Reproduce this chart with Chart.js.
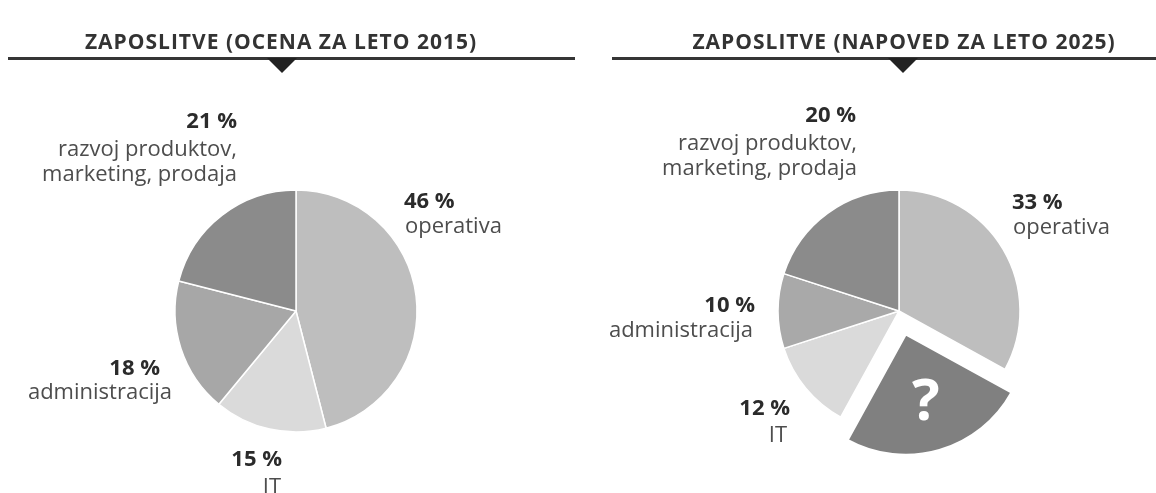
<!DOCTYPE html>
<html>
<head>
<meta charset="utf-8">
<script src="https://cdn.jsdelivr.net/npm/chart.js@4.4.0/dist/chart.umd.min.js"></script>
<style>
  html, body { margin: 0; padding: 0; background: #fff; }
  #wrap { position: relative; width: 1156px; height: 493px; overflow: hidden; }
  canvas { position: absolute; top: 0; }
  #left { left: 0; }
  #right { left: 590px; }
</style>
</head>
<body>
<div id="wrap">
  <canvas id="left" width="590" height="493"></canvas>
  <canvas id="right" width="566" height="493"></canvas>
</div>
<script>
// shares in percent, clockwise from 12 o'clock
var categories2015 = ['operativa', 'IT', 'administracija', 'razvoj produktov,\nmarketing, prodaja'];
var shares2015 = [46, 15, 18, 21];

var categories2025 = ['operativa', '?', 'IT', 'administracija', 'razvoj produktov,\nmarketing, prodaja'];
var shares2025 = [33, 25, 12, 10, 20];

var grays2015 = ['#bebebe', '#dadada', '#a7a7a7', '#8b8b8b'];
var grays2025 = ['#bebebe', '#808080', '#dadada', '#a9a9a9', '#8b8b8b'];

//+++++++++++++++ heading: title, rule and little arrow +++++++++++++++
var heading = {
	id: 'heading',
	beforeDraw: function (chart, args, o) {
		var ctx = chart.ctx;
		ctx.save();
		ctx.fillStyle = '#333';
		ctx.font = 'bold 21px "Open Sans"';
		if ('letterSpacing' in ctx) ctx.letterSpacing = '1px';
		ctx.textAlign = 'center';
		ctx.textBaseline = 'alphabetic';
		ctx.fillText(o.text, o.textX, 49);

		ctx.strokeStyle = '#353535';
		ctx.lineWidth = 3;
		ctx.beginPath();
		ctx.moveTo(o.from, 58.5);
		ctx.lineTo(o.to, 58.5);
		ctx.stroke();

		ctx.fillStyle = '#222';
		ctx.beginPath();
		ctx.moveTo(o.arrowX - 15, 58);
		ctx.lineTo(o.arrowX + 15, 58);
		ctx.lineTo(o.arrowX, 73);
		ctx.closePath();
		ctx.fill();
		ctx.restore();
	}
};

//+++++++++++++++ labels next to (or inside) the slices +++++++++++++++
var sliceLabels = {
	id: 'sliceLabels',
	afterDatasetsDraw: function (chart, args, o) {
		var ctx = chart.ctx;
		var meta = chart.getDatasetMeta(0);
		var values = chart.data.datasets[0].data;
		meta.data.forEach(function (arc, i) {
			var pos = o.layout[i];
			ctx.save();
			if (pos.inside) {
				// the arc is pushed out by a quarter of its offset option when drawn
				var mid = (arc.startAngle + arc.endAngle) / 2;
				var d = (arc.options.offset || 0) / 4 + arc.outerRadius * 0.6;
				ctx.fillStyle = '#fff';
				ctx.font = 'bold 58px "Open Sans"';
				ctx.textAlign = 'center';
				ctx.textBaseline = 'middle';
				ctx.fillText(chart.data.labels[i], arc.x + Math.cos(mid) * d, arc.y + Math.sin(mid) * d);
			} else {
				ctx.textAlign = pos.align;
				ctx.textBaseline = 'alphabetic';
				ctx.fillStyle = '#2b2b2b';
				ctx.font = 'bold 22px "Open Sans"';
				ctx.fillText(values[i] + ' %', arc.x + pos.x, arc.y + pos.y);
				ctx.fillStyle = '#4d4d4d';
				ctx.font = '22px "Open Sans"';
				chart.data.labels[i].split('\n').forEach(function (line, k) {
					ctx.fillText(line, arc.x + pos.tx, arc.y + pos.y + pos.gap + k * 25);
				});
			}
			ctx.restore();
		});
	}
};

function makePie(id, labels, values, colors, offsets, borders, padding, head, layout) {
	return new Chart(document.getElementById(id), {
		type: 'pie',
		data: {
			labels: labels,
			datasets: [{
				data: values,
				backgroundColor: colors,
				borderColor: '#fff',
				borderWidth: borders,
				offset: offsets
			}]
		},
		options: {
			responsive: false,
			animation: false,
			devicePixelRatio: 1,
			events: [],
			radius: 121,
			layout: { padding: padding },
			plugins: {
				legend: { display: false },
				tooltip: { enabled: false },
				heading: head,
				sliceLabels: { layout: layout }
			}
		},
		plugins: [heading, sliceLabels]
	});
}

makePie('left', categories2015, shares2015, grays2015, [0, 0, 0, 0], 1.5,
	{ left: 156, right: 154, top: 171, bottom: 42 },
	{ text: 'ZAPOSLITVE (OCENA ZA LETO 2015)', textX: 281, from: 8, to: 575, arrowX: 282 },
	[
		{ align: 'left', x: 108, y: -103, tx: 109, gap: 25 },
		{ align: 'right', x: -14, y: 155, tx: -15, gap: 28 },
		{ align: 'right', x: -136, y: 64, tx: -124, gap: 24 },
		{ align: 'right', x: -59, y: -183, tx: -59, gap: 28 }
	]);

// the "?" slice is pulled out: 96 / 4 = 24 px
makePie('right', categories2025, shares2025, grays2025, [0, 96, 0, 0, 0], [1.5, 2.5, 1.5, 1.5, 1.5],
	{ left: 169, right: 117, top: 171, bottom: 42 },
	{ text: 'ZAPOSLITVE (NAPOVED ZA LETO 2025)', textX: 314, from: 22, to: 566, arrowX: 313 },
	[
		{ align: 'left', x: 113, y: -102, tx: 114, gap: 25 },
		{ inside: true },
		{ align: 'right', x: -109, y: 104, tx: -112, gap: 27 },
		{ align: 'right', x: -144, y: 1, tx: -146, gap: 25 },
		{ align: 'right', x: -43, y: -189, tx: -42, gap: 28 }
	]);
</script>
</body>
</html>
